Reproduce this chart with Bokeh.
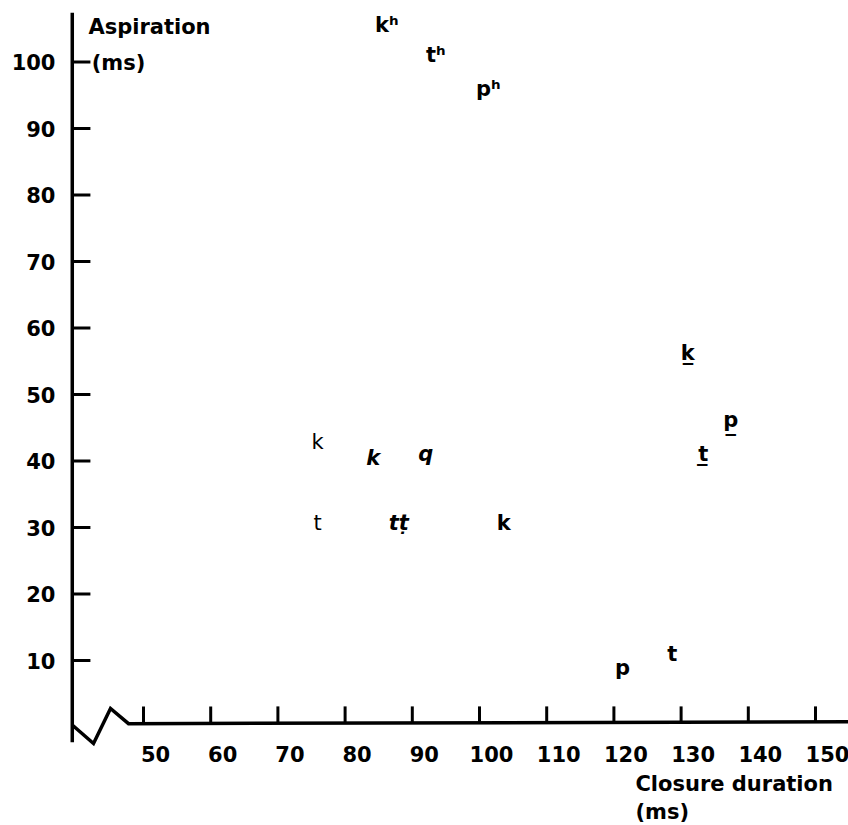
from bokeh.plotting import figure
from bokeh.models import Range1d, ColumnDataSource
from bokeh.core.properties import value
from bokeh.embed import file_html
from bokeh.resources import INLINE

# ---- data ----
x_ticks = [50, 60, 70, 80, 90, 100, 110, 120, 130, 140, 150]
x_tick_labels = [str(v) for v in x_ticks]
y_ticks = [10, 20, 30, 40, 50, 60, 70, 80, 90, 100]
y_tick_labels = [str(v) for v in y_ticks]

labels = ["kʰ", "tʰ", "pʰ", "k", "k", "q", "t", "tṭ", "k", "k\u0332", "p\u0332", "t\u0332", "p", "t"]
closure = [86.2, 93.5, 101.3, 75.9, 84.2, 92.0, 75.9, 88.0, 103.6, 131.0, 137.4, 133.3, 121.3, 128.7]
aspiration = [105.5, 101.0, 96.0, 42.9, 40.5, 41.0, 30.7, 30.7, 30.7, 56.2, 46.2, 41.1, 8.8, 11.0]
styles = ["bold", "bold", "bold", "normal", "bold italic", "bold italic", "normal",
          "bold italic", "bold", "bold", "bold", "bold", "bold", "bold"]

x_title = ["Closure duration", "(ms)"]
y_title = ["Aspiration", "(ms)"]

# axis geometry (with break zigzag near the origin)
x_axis_x = [39.4, 42.56, 45.09, 47.77, 155.0]
x_axis_y = [0.3, -2.48, 2.78, 0.5, 0.8]
y_axis_pos = 39.4
y_axis_top = 107.4
y_axis_bottom = -2.3

FONT = "DejaVu Sans"

p = figure(width=848, height=825, output_backend="svg", toolbar_location=None,
           x_range=Range1d(28.72, 154.91), y_range=Range1d(-14.81, 109.25),
           x_axis_type=None, y_axis_type=None, title=None, min_border=0,
           outline_line_color=None, background_fill_color="white",
           border_fill_color="white")
p.grid.visible = False

# axes
p.line(x_axis_x, x_axis_y, line_color="black", line_width=3.5, line_join="miter")
p.segment(x0=[y_axis_pos], y0=[y_axis_bottom], x1=[y_axis_pos], y1=[y_axis_top],
          line_color="black", line_width=3.5)

# x ticks
p.segment(x0=x_ticks, y0=[0.6] * len(x_ticks), x1=x_ticks, y1=[3.1] * len(x_ticks),
          line_color="black", line_width=3)
p.text(x=x_ticks, y=[-4.0] * len(x_ticks), text=x_tick_labels, x_offset=12,
       text_align="center", text_baseline="middle", text_font=value(FONT),
       text_font_style="bold", text_font_size="21px", text_color="black")

# y ticks
p.segment(x0=[y_axis_pos] * len(y_ticks), y0=y_ticks, x1=[42.1] * len(y_ticks), y1=y_ticks,
          line_color="black", line_width=3)
p.text(x=[36.9] * len(y_ticks), y=y_ticks, text=y_tick_labels,
       text_align="right", text_baseline="middle", text_font=value(FONT),
       text_font_style="bold", text_font_size="21px", text_color="black")

# axis titles
p.text(x=[41.8, 42.3], y=[105.3, 99.9], text=y_title, text_align="left",
       text_baseline="middle", text_font=value(FONT), text_font_style="bold",
       text_font_size="21px", text_color="black")
p.text(x=[123.2, 123.2], y=[-8.5, -12.8], text=x_title, text_align="left",
       text_baseline="middle", text_font=value(FONT), text_font_style="bold",
       text_font_size="21px", text_color="black")

# data labels
src = ColumnDataSource(dict(x=closure, y=aspiration, label=labels, style=styles))
p.text(x="x", y="y", text="label", source=src, text_align="center",
       text_baseline="middle", text_font=value(FONT), text_font_style="style",
       text_font_size="21px", text_color="black")

open("out.html", "w").write(file_html(p, INLINE))
